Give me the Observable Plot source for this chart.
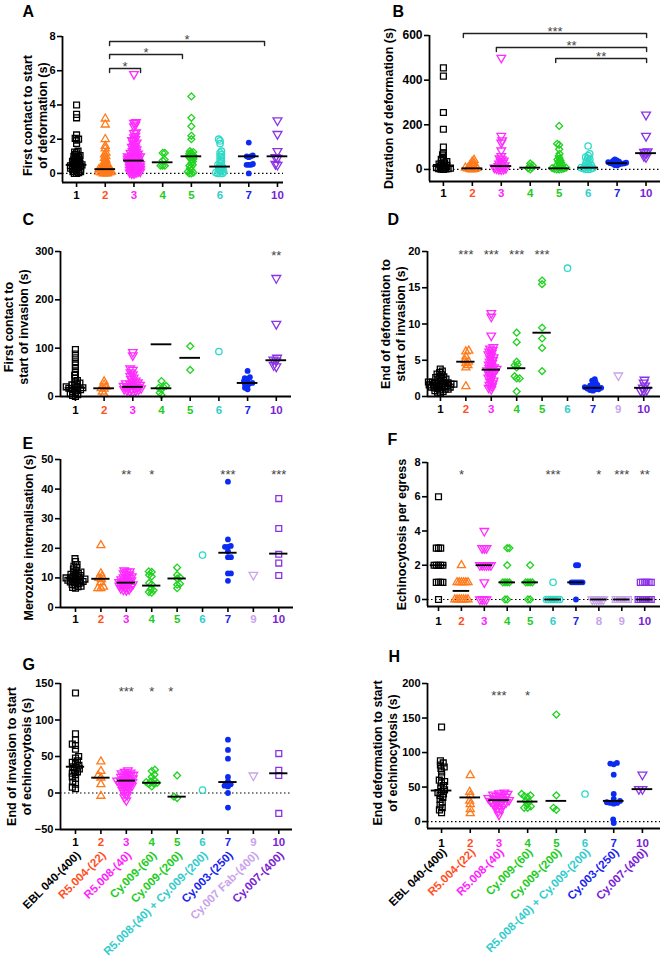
<!DOCTYPE html>
<html><head><meta charset="utf-8">
<script src="https://cdn.jsdelivr.net/npm/d3@7"></script>
<script src="https://cdn.jsdelivr.net/npm/@observablehq/plot@0.6"></script>
<style>
body{margin:0;background:#fff;}
#root{position:relative;width:660px;height:959px;overflow:hidden;background:#fff;}
#root svg{position:absolute;overflow:visible;}
</style></head><body><div id="root"></div>
<script>
// ---------- categories ----------
const catNames = {"1":"EBL 040-(400)","2":"R5.004-(22)","3":"R5.008-(40)","4":"Cy.009-(60)","5":"Cy.009-(200)","6":"R5.008-(40) + Cy.009-(200)","7":"Cy.003-(250)","8":"","9":"Cy.007 Fab-(400)","10":"Cy.007-(400)"};
const markerColors = {"1":"#000000","2":"#FF7A1A","3":"#FF2BFF","4":"#1FD21F","5":"#1FD21F","6":"#2FD9C6","7":"#0B2BF2","8":"#C9A3EC","9":"#C9A3EC","10":"#8A33E6"};
const labelColors = {"1":"#000000","2":"#FF4F1F","3":"#FF22FF","4":"#22CC22","5":"#22CC22","6":"#33CCCC","7":"#1A22EE","8":"#C9A3EC","9":"#C9A3EC","10":"#7A22D6"};

// ---------- Panel A ----------
const A_cats = ["1","2","3","4","5","6","7","10"];
const A_values = [
 [4.0,3.45,3.25,2.25,2.05,2.0,1.95,1.75,1.3,1.25,1.2,1.1,1.05,1.0,1.0,0.95,0.9,0.85,0.8,0.8,0.75,0.7,0.7,0.65,0.6,0.6,0.55,0.5,0.5,0.5,0.45,0.45,0.4,0.4,0.35,0.35,0.3,0.3,0.25,0.25,0.2,0.2,0.15,0.1,0.1,0.05,0.0,0.0],
 [3.2,2.85,2.0,1.6,1.45,1.2,1.1,1.0,0.9,0.8,0.7,0.6,0.55,0.5,0.45,0.4,0.35,0.3,0.3,0.25,0.25,0.2,0.2,0.15,0.15,0.1,0.1,0.05,0.05,0.0,0.0,0.0],
 [5.8,3.0,2.95,2.85,2.75,2.4,2.35,2.2,2.1,2.0,1.95,1.9,1.8,1.75,1.7,1.6,1.55,1.5,1.45,1.4,1.35,1.3,1.25,1.2,1.2,1.15,1.1,1.1,1.05,1.0,1.0,1.0,0.95,0.95,0.9,0.9,0.85,0.85,0.8,0.8,0.75,0.75,0.7,0.7,0.65,0.65,0.6,0.6,0.55,0.55,0.5,0.5,0.45,0.45,0.4,0.4,0.35,0.35,0.3,0.3,0.25,0.25,0.2,0.2,0.15,0.15,0.1,0.1,0.05,0.05,0.0,0.0],
 [1.2,1.2,0.8,0.75,0.45,0.45,0.45],
 [4.5,3.25,2.75,2.2,2.0,1.3,1.25,1.2,1.15,1.1,1.05,1.0,1.0,0.95,0.9,0.85,0.8,0.7,0.6,0.5,0.45,0.4,0.3,0.2,0.1,0.05,0.0,0.0],
 [2.0,1.9,1.75,1.3,1.2,1.1,1.0,0.9,0.8,0.7,0.6,0.5,0.45,0.4,0.35,0.3,0.25,0.2,0.15,0.1,0.05,0.0,0.0,0.0],
 [1.8,1.05,1.0,1.0,0.95,0.55,0.5,0.5,0.5,0.0],
 [3.1,2.3,1.3,0.95,0.9,0.55,0.5]
];
const A_medians = [0.5,0.25,0.75,0.65,1.0,0.4,1.0,1.0];
const A_ticks = [0,2,4,6,8];
const A_brackets = [{x1:1.15,x2:2.23,y:6.13,t:"*"},{x1:1.15,x2:3.69,y:6.95,t:"*"},{x1:1.15,x2:6.55,y:7.71,t:"*"}];

// ---------- Panel B ----------
const B_cats = ["1","2","3","4","5","6","7","10"];
const B_values = [
 [455,418,255,180,100,75,65,55,45,40,35,30,27,24,21,18,15,12,10,8,6,4,3,2,1,0],
 [42,35,28,22,18,14,10,8,6,4,2,1,0],
 [500,150,130,120,85,60,50,45,40,35,30,26,22,18,15,12,10,8,6,4,2,1,0],
 [27,18,15,8,5,0],
 [195,115,110,90,70,60,50,45,40,35,30,25,20,16,12,10,8,6,4,2,1,0,0],
 [105,70,62,55,50,45,40,35,30,25,20,16,12,10,8,6,4,2,1,0],
 [45,40,38,35,33,31,30,29,28,27,26,25,23,20,18],
 [245,150,80,78,72,60,55]
];
const B_medians = [15,5,15,8,5,8,28,73];
const B_ticks = [0,200,400,600];
const B_brackets = [{x1:0.69,x2:7.02,y:609,t:"***"},{x1:1.83,x2:7.02,y:546,t:"**"},{x1:3.88,x2:7.02,y:497,t:"**"}];

// ---------- Panel C ----------
const C_cats = ["1","2","3","4","5","6","7","10"];
const C_values = [
 [97,88,80,72,65,58,50,44,38,33,30,28,26,24,22,20,19,18,17,16,15,14,12,10,8,6,4,2,0],
 [31,24,20,17,16,10,5],
 [92,85,58,55,50,46,42,39,36,33,31,29,27,26,25,24,23,22,21,20,19,18,17,16,15,14,13,12,11,10],
 [32,22,20,18,15,8,3],
 [104,55],
 [93],
 [53,40,38,36,32,30,28,27,25,22,18,15],
 [245,150,80,76,74,65,62]
];
const C_medians = [18,17,20,17,80,null,28,75];
const C_extraLines = [{c:"4",y:108}];
const C_ticks = [0,100,200,300];
const C_stars = [{c:"10",y:298,t:"**"}];

// ---------- Panel D ----------
const D_cats = ["1","2","3","4","5","6","7","9","10"];
const D_values = [
 [3.8,3.5,3.3,3.1,3.0,2.8,2.7,2.6,2.5,2.4,2.3,2.2,2.1,2.0,2.0,1.9,1.9,1.8,1.8,1.7,1.7,1.7,1.6,1.6,1.5,1.5,1.4,1.4,1.3,1.3,1.2,1.2,1.1,1.0,1.0,0.9,0.8,0.7,0.6,0.5],
 [6.3,6.2,5.5,5.0,4.8,4.6,4.3,4.0,1.4],
 [11.5,11.0,8.4,6.8,6.6,6.4,6.2,6.0,5.8,5.6,5.4,5.2,5.0,4.8,4.6,4.4,4.2,4.0,3.9,3.8,3.7,3.6,3.5,3.4,3.2,3.0,2.8,2.6,2.4,2.2,2.0,1.8,1.6,1.4,1.2,1.0],
 [8.8,7.5,4.8,4.4,4.3,4.0,2.8,2.5,2.5,0.7],
 [16.0,15.5,9.5,8.0,6.7,3.5],
 [17.7],
 [2.4,2.2,2.0,1.8,1.6,1.5,1.4,1.3,1.2,1.2,1.1,1.0,1.0,0.9,0.8],
 [2.9],
 [2.3,1.9,1.5,1.2,0.9,0.8,0.8]
];
const D_medians = [1.7,4.8,3.7,3.9,8.8,null,1.2,null,1.2];
const D_ticks = [0,5,10,15,20];
const D_stars = [{c:"2",y:19.9,t:"***"},{c:"3",y:19.9,t:"***"},{c:"4",y:19.9,t:"***"},{c:"5",y:19.9,t:"***"}];

// ---------- Panel E ----------
const E_cats = ["1","2","3","4","5","6","7","9","10"];
const E_values = [
 [16.5,15.5,14.5,14,13.5,13,12.5,12,11.8,11.5,11.2,11,10.8,10.5,10.3,10,10,9.8,9.6,9.5,9.3,9.2,9,8.8,8.6,8.5,8.3,8,7.8,7.5,7.2,7,6.8,6.5],
 [21,11.5,10.5,10,9.5,8.5,7,6.5,6.5],
 [12.5,12.2,12,11.5,11.2,11,10.5,10.2,10,9.8,9.5,9.2,9,8.8,8.6,8.4,8.2,8,7.8,7.6,7.4,7.2,7,6.8,6.5,6.2,6,5.8],
 [12.2,12,11,10.5,8.3,7.8,6.2,5.8,5.2,5],
 [13.5,11,10.2,9.8,8,7.7,6.5],
 [17.7],
 [42.5,23,20.8,20.5,20.5,19,17,17,11.5,11.5,9],
 [11],
 [36.8,26.7,18,15,10.8]
];
const E_medians = [9.8,9.7,8.4,7.4,9.8,null,18.5,null,18.2];
const E_ticks = [0,10,20,30,40,50];
const E_stars = [{c:"3",y:45.9,t:"**"},{c:"4",y:45.9,t:"*"},{c:"7",y:45.9,t:"***"},{c:"10",y:45.9,t:"***"}];

// ---------- Panel F ----------
const F_cats = ["1","2","3","4","5","6","7","8","9","10"];
const F_values = [
 [6,3,3,3,2,2,2,2,2,1,1,1,1,0],
 [2,1,1,1,1,1,1,0,0,0,0,0,0,0],
 [4,3,3,3,2,2,2,2,2,2,1,0,0,0,0],
 [3,3,2,1,1,1,1,0,0],
 [2,1,1,1,1,0,0],
 [1,0,0,0,0,0,0,0],
 [2,2,1,1,1,1,1,1,0],
 [0,0,0,0,0,0],
 [0,0,0,0,0,0,0],
 [1,1,1,1,1,1,0,0,0,0,0,0,0]
];
const F_medians = [2,0.5,2,1,1,0,1,0,0,0];
const F_ticks = [0,2,4,6,8];
const F_stars = [{c:"2",y:7.48,t:"*"},{c:"6",y:7.48,t:"***"},{c:"8",y:7.48,t:"*"},{c:"9",y:7.48,t:"***"},{c:"10",y:7.48,t:"**"}];

// ---------- Panel G ----------
const G_cats = ["1","2","3","4","5","6","7","9","10"];
const G_values = [
 [137,81,73,67,65,60,50,48,44,42,40,38,36,35,33,31,29,27,25,22,20,15,12,8,6],
 [43,30,24,21,12,-4],
 [31,29,28,27,26,25,24,23,22,21,20,19,18,17,17,16,15,14,13,12,11,10,9,8,6,4,2,0,-3,-6,-10],
 [32,30,25,22,18,16,15,14,13,12,9],
 [24,-5,-7],
 [4],
 [73,59,47,22,16,12,10,9,0,-20],
 [24],
 [54,31,24,-28]
];
const G_medians = [36,21,17,14,-5,null,15,null,27];
const G_ticks = [-50,0,50,100,150];
const G_stars = [{c:"3",y:142.5,t:"***"},{c:"4",y:142.5,t:"*"},{c:"5",y:142.5,t:"*",dx:-0.25}];

// ---------- Panel H ----------
const H_cats = ["1","2","3","4","5","6","7","10"];
const H_values = [
 [137,88,85,82,79,77,72,66,60,58,56,52,49,46,44,42,40,38,35,32,28,24,20,17,13],
 [67,43,38,30,25,18,12],
 [42,41,40,39,38,37,36,35,34,33,32,31,31,30,29,28,27,26,25,24,22,20,18,15,10],
 [40,38,37,35,30,29,25,22,20,20],
 [155,38,20,17],
 [40],
 [85,84,83,68,40,33,30,28,27,27,26,3,-2],
 [68,47,47]
];
const H_medians = [45,35,31,29,30,null,30,47];
const H_ticks = [0,50,100,150,200];
const H_stars = [{c:"3",y:187,t:"***"},{c:"4",y:187,t:"*"}];

// ---------- symbols ----------
const invTri = {draw(ctx, size){const s3=Math.sqrt(3);const h=Math.sqrt(size/(s3*3));ctx.moveTo(0,2*h);ctx.lineTo(s3*h,-h);ctx.lineTo(-s3*h,-h);ctx.closePath();}};
const baseSymbols = {"1":["square",3.3,false],"2":["triangle",3.0,false],"3":[invTri,3.2,false],"4":["diamond2",3.1,false],"5":["diamond2",3.1,false],"6":["circle",3.2,false],"7":["circle",2.9,true],"8":[invTri,3.2,false],"9":[invTri,3.2,false],"10":[invTri,3.3,false]};

// ---------- layout ----------
const panels = [
 {L:"A",cats:A_cats,values:A_values,medians:A_medians,yticks:A_ticks,brackets:A_brackets,title:"First contact to start\nof deformation (s)",
  left:0,top:0,w:330,h:200,mL:62,mT:36,mR:47,mB:18,xdom:[-0.49,7.21],ydom:[-0.53,8],zero:true,sep:2.2,tdx:-27.5,tdy:6,letter:[22,5],labelDy:13,tickFont:11},
 {L:"B",cats:B_cats,values:B_values,medians:B_medians,yticks:B_ticks,brackets:B_brackets,title:"Duration of deformation (s)",
  left:330,top:0,w:330,h:200,mL:99,mT:35,mR:0,mB:19,xdom:[-0.48,7.5],ydom:[-54,600],zero:true,sep:2.4,tdx:-41,tdy:0,letter:[62,5],labelDy:12,tickFont:12},
 {L:"C",cats:C_cats,values:C_values,medians:C_medians,extra:C_extraLines,yticks:C_ticks,stars:C_stars,title:"First contact to\nstart of invasion (s)",
  left:0,top:200,w:330,h:222,mL:60,mT:51,mR:39,mB:26,xdom:[-0.52,7.53],ydom:[0,300],zero:false,sep:3,tdx:-45,tdy:3,letter:[22,13],labelDy:14,tickFont:11},
 {L:"D",cats:D_cats,values:D_values,medians:D_medians,yticks:D_ticks,stars:D_stars,title:"End of deformation to\nstart of invasion (s)",
  left:330,top:200,w:330,h:222,mL:97,mT:51,mR:0,mB:26,xdom:[-0.51,8.66],ydom:[0,20],zero:false,sep:3,tdx:-34.5,tdy:0,letter:[57,13],labelDy:13,tickFont:11},
 {L:"E",cats:E_cats,values:E_values,medians:E_medians,yticks:E_ticks,stars:E_stars,title:"Merozoite internalisation (s)",sym:{"10":["square",3.3,false]},
  left:0,top:400,w:330,h:225,mL:60,mT:59,mR:37,mB:18,xdom:[-0.59,8.58],ydom:[0,50],zero:false,sep:3,tdx:-32,tdy:4,letter:[22,37],labelDy:12,tickFont:11},
 {L:"F",cats:F_cats,values:F_values,medians:F_medians,yticks:F_ticks,stars:F_stars,title:"Echinocytosis per egress",sym:{"9":["square",3.3,false],"10":["square",3.3,false]},
  left:330,top:400,w:330,h:225,mL:97,mT:62,mR:0,mB:19,xdom:[-0.48,9.69],ydom:[-0.41,8],zero:true,sep:2.2,tdx:-26,tdy:0,letter:[57,33],labelDy:15,tickFont:11},
 {L:"G",cats:G_cats,values:G_values,medians:G_medians,yticks:G_ticks,stars:G_stars,title:"End of invasion to start\nof echinocytosis (s)",sym:{"10":["square",3.3,false]},
  left:0,top:600,w:330,h:359,mL:60,mT:83,mR:38,mB:130,xdom:[-0.59,8.54],ydom:[-50,150],zero:true,sep:3.5,tdx:-41.5,tdy:0,letter:[22,58],labelDy:13,rotDy:24,tickFont:11},
 {L:"H",cats:H_cats,values:H_values,medians:H_medians,yticks:H_ticks,stars:H_stars,title:"End deformation to start\nof echinocytosis (s)",
  left:330,top:600,w:330,h:359,mL:97,mT:83,mR:0,mB:131,xdom:[-0.49,7.63],ydom:[-10,200],zero:true,sep:3.5,tdx:-42.5,tdy:-3,letter:[58,50],labelDy:15,rotDy:22,tickFont:11}
];

function swarmOffsets(pys, sep) {
  const order = pys.map((_, i) => i).sort((a, b) => pys[b] - pys[a]);
  const placed = [], out = new Array(pys.length).fill(0);
  let flip = false;
  for (const i of order) {
    const py = pys[i];
    const blocks = [];
    for (const p of placed) {
      const dy = Math.abs(p.y - py);
      if (dy < sep) { const w = Math.sqrt(sep * sep - dy * dy); blocks.push([p.x - w, p.x + w]); }
    }
    const cands = [0];
    blocks.forEach(([l, r]) => cands.push(l, r));
    cands.sort((a, b) => Math.abs(a) - Math.abs(b) || (flip ? a - b : b - a));
    let x = 0;
    for (const c of cands) {
      if (blocks.every(([l, r]) => c <= l + 1e-6 || c >= r - 1e-6)) { x = c; break; }
    }
    flip = !flip;
    placed.push({x, y: py}); out[i] = x;
  }
  return out;
}

const FONT = "'Liberation Sans', Arial, Helvetica, sans-serif";
const root = document.getElementById("root");

for (const p of panels) {
  const plotW = p.w - p.mL - p.mR, plotH = p.h - p.mT - p.mB;
  const xpx = plotW / (p.xdom[1] - p.xdom[0]);
  const ys = d3.scaleLinear().domain(p.ydom).range([plotH, 0]);
  const ypx = plotH / (p.ydom[1] - p.ydom[0]);
  const idx = p.cats.map((c, i) => i);
  const marks = [];
  if (p.zero) marks.push(Plot.ruleY([0], {x1: p.xdom[0], x2: p.xdom[1], stroke: "#000", strokeWidth: 1.2, strokeDasharray: "1.5,2.5"}));
  // points
  p.cats.forEach((c, i) => {
    const vals = p.values[i];
    const off = swarmOffsets(vals.map(v => ys(v)), p.sep);
    const data = vals.map((v, k) => ({x: i + off[k] / xpx, y: v}));
    const [sym, r, filled] = (p.sym && p.sym[c]) || baseSymbols[c];
    marks.push(Plot.dot(data, {x: "x", y: "y", symbol: sym, r,
      stroke: filled ? "none" : markerColors[c], fill: filled ? markerColors[c] : "none", strokeWidth: 1.3}));
  });
  // medians
  const hw = 0.36;
  const med = p.medians.map((m, i) => ({i, m})).filter(d => d.m != null);
  if (p.extra) p.extra.forEach(e => med.push({i: p.cats.indexOf(e.c), m: e.y}));
  marks.push(Plot.ruleY(med, {y: "m", x1: d => d.i - hw, x2: d => d.i + hw, stroke: "#000", strokeWidth: 1.9}));
  // axes
  marks.push(Plot.ruleX([p.xdom[0]], {y1: p.ydom[0], y2: p.ydom[1], stroke: "#000", strokeWidth: 1.8}));
  marks.push(Plot.ruleY([p.ydom[0]], {x1: p.xdom[0], x2: p.xdom[1], stroke: "#000", strokeWidth: 1.8}));
  marks.push(Plot.axisY({ticks: p.yticks, tickSize: 5, tickPadding: 2, strokeWidth: 1.6, fontSize: p.tickFont, fontWeight: "bold", label: null, anchor: "left"}));
  marks.push(Plot.axisX({ticks: idx, tickSize: 5, tickFormat: () => "", strokeWidth: 1.6, label: null, anchor: "bottom"}));
  // category numbers and names
  p.cats.forEach((c, i) => {
    marks.push(Plot.text([c], {x: i, y: p.ydom[0], dy: p.labelDy, text: d => d, fill: labelColors[c], fontSize: 11.5, fontWeight: "bold"}));
    if (p.rotDy) marks.push(Plot.text([catNames[c]], {x: i, y: p.ydom[0], dy: p.rotDy, dx: 3, rotate: -45, textAnchor: "end", text: d => d, fill: labelColors[c], fontSize: 11.5, fontWeight: "bold"}));
  });
  // significance stars
  if (p.stars) marks.push(Plot.text(p.stars, {x: d => p.cats.indexOf(d.c) + (d.dx || 0), y: "y", text: "t", dy: 3, fill: "#444", fontSize: 13}));
  if (p.brackets) {
    const drop = 4 / ypx;
    p.brackets.forEach(b => {
      const pts = [{x: b.x1, y: b.y - drop}, {x: b.x1, y: b.y}, {x: b.x2, y: b.y}, {x: b.x2, y: b.y - drop}];
      marks.push(Plot.line(pts, {x: "x", y: "y", stroke: "#222", strokeWidth: 1.4}));
    });
    marks.push(Plot.text(p.brackets, {x: d => (d.x1 + d.x2) / 2, y: "y", text: "t", dy: -2, fill: "#444", fontSize: 13}));
  }
  // y title and panel letter
  marks.push(Plot.text([p.title], {frameAnchor: "left", textAnchor: "middle", lineAnchor: "middle", dx: p.tdx, dy: p.tdy, rotate: -90, text: d => d, fontSize: 12.5, fontWeight: "bold", lineHeight: 1.2, fill: "#000"}));
  marks.push(Plot.text([p.L], {frameAnchor: "top-left", dx: p.letter[0] - p.mL, dy: p.letter[1] - p.mT, lineAnchor: "top", textAnchor: "start", text: d => d, fontSize: 16, fontWeight: "bold", fill: "#000"}));

  const svg = Plot.plot({
    width: p.w, height: p.h,
    marginLeft: p.mL, marginRight: p.mR, marginTop: p.mT, marginBottom: p.mB,
    x: {domain: p.xdom},
    y: {domain: p.ydom},
    style: {background: "none", fontFamily: FONT, overflow: "visible"},
    marks
  });
  svg.style.position = "absolute";
  svg.style.left = p.left + "px";
  svg.style.top = p.top + "px";
  root.appendChild(svg);
}
</script>
</body></html>
